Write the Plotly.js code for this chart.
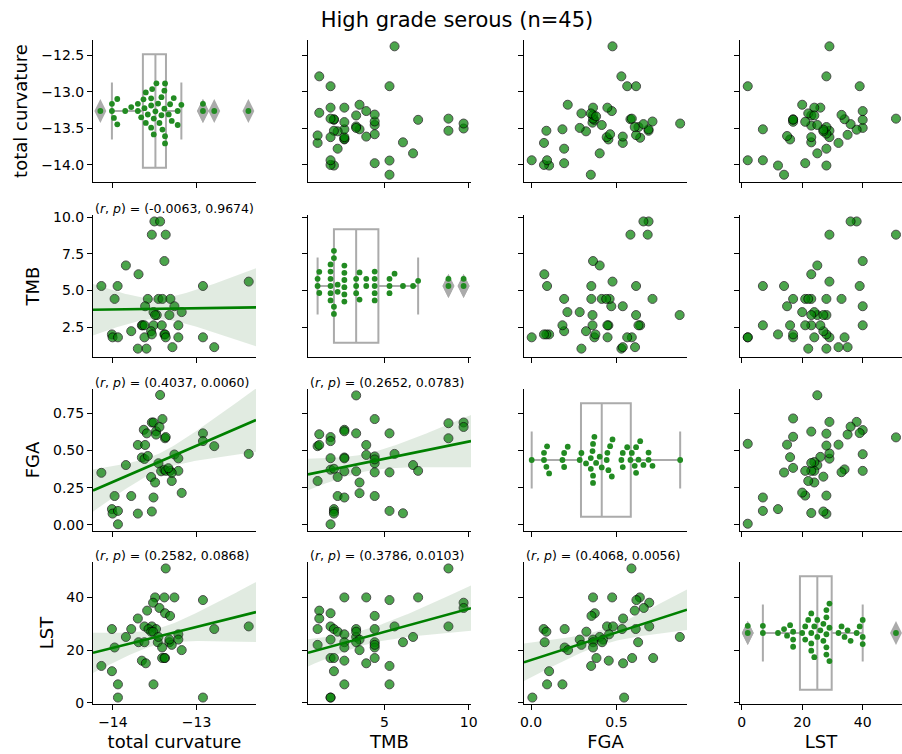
<!DOCTYPE html>
<html><head><meta charset="utf-8">
<script src="https://cdn.plot.ly/plotly-3.0.1.min.js"></script>
<style>html,body{margin:0;padding:0;background:#fff}</style>
</head><body><div id="chart" style="width:902px;height:754px"></div>
<script>
// ---------------- data ----------------
const titleText = 'High grade serous (n=45)';
const varNames = ['total curvature', 'TMB', 'FGA', 'LST'];

// marginal values of each variable (diagonal panels)
const curvature = [-14.150,-14.012,-14.012,-13.988,-13.948,-13.948,-13.853,-13.781,-13.702,-13.702,-13.662,-13.635,-13.623,-13.607,-13.607,-13.583,-13.543,-13.543,-13.543,-13.531,-13.512,-13.512,-13.492,-13.480,-13.460,-13.444,-13.420,-13.420,-13.408,-13.385,-13.385,-13.377,-13.377,-13.377,-13.333,-13.317,-13.297,-13.273,-13.226,-13.226,-13.182,-12.924,-12.924,-12.789,-12.381];
const tmb = [1.03,1.03,1.13,1.13,1.8,1.8,1.8,1.8,1.8,1.8,2.0,2.0,2.0,2.0,2.22,2.22,2.62,2.62,2.62,2.62,2.62,2.62,3.32,3.32,3.32,3.52,3.52,3.92,3.92,4.42,4.42,4.42,4.42,4.42,5.3,5.3,5.3,5.6,6.1,6.7,7.0,8.8,8.8,9.7,9.7];
const fga = [0.004,0.076,0.076,0.090,0.094,0.106,0.184,0.194,0.194,0.215,0.285,0.295,0.322,0.350,0.350,0.360,0.363,0.363,0.363,0.371,0.381,0.402,0.414,0.443,0.447,0.453,0.463,0.473,0.477,0.529,0.537,0.537,0.563,0.582,0.590,0.607,0.615,0.615,0.629,0.639,0.658,0.688,0.688,0.711,0.873];
const lst = [2,2,7,7,12,14,15,16,17,17,17,20,21,21,22,23,23,23,23,24,24,25,25,26,27,27,28,28,28,28,28,29,29,29,32,33,34,35,36,38,39,40,40,40,51];

// pairwise samples
const ctCurv = [-13.504,-13.436,-13.535,-13.369,-13.845,-13.385,-13.694,-14.138,-13.944,-12.924,-12.377,-13.980,-13.583,-13.456,-13.408,-13.313,-13.615,-13.265,-13.178,-13.515,-13.476,-13.325,-13.496,-13.654,-13.646,-13.623,-13.515,-13.416,-13.218,-13.781,-13.543,-14.012,-13.385,-13.535,-13.377,-14.004,-13.940,-13.623,-13.369,-13.218,-12.924,-13.702,-13.599,-13.289,-12.789];
const ctTmb = [9.7,9.7,8.8,8.8,6.7,7.0,6.1,5.3,5.3,5.3,5.6,4.42,4.42,4.42,4.42,4.42,3.92,3.92,3.52,3.52,3.32,3.32,3.32,2.62,2.62,2.62,2.62,2.62,2.62,2.22,2.22,2.0,2.0,2.0,2.0,1.8,1.8,1.8,1.8,1.8,1.8,1.03,1.03,1.13,1.13];

const cfCurv = [-14.138,-13.845,-13.980,-14.012,-14.004,-13.940,-13.940,-13.781,-13.702,-13.535,-13.515,-13.543,-13.496,-13.178,-13.297,-13.436,-13.535,-13.515,-13.408,-13.631,-13.595,-13.484,-13.444,-13.377,-13.369,-13.702,-13.615,-13.654,-13.623,-13.583,-13.265,-13.218,-12.924,-12.924,-12.789,-12.377,-13.456,-13.424,-13.385,-13.369,-13.317,-13.218,-13.484,-13.297,-13.337];
const cfFga = [0.350,0.402,0.194,0.106,0.076,0.094,0.004,0.194,0.076,0.090,0.184,0.322,0.285,0.215,0.295,0.873,0.688,0.688,0.711,0.639,0.615,0.629,0.658,0.582,0.590,0.537,0.537,0.453,0.443,0.463,0.473,0.447,0.615,0.563,0.529,0.477,0.414,0.360,0.371,0.363,0.363,0.363,0.607,0.350,0.381];

const clCurv = [-13.369,-13.496,-13.385,-13.265,-12.924,-13.520,-13.444,-13.591,-13.377,-13.317,-13.702,-13.623,-13.535,-14.012,-13.781,-13.575,-13.484,-13.543,-13.520,-13.218,-12.789,-12.377,-13.845,-13.218,-13.694,-13.623,-13.464,-13.325,-13.297,-13.980,-13.412,-13.178,-13.654,-13.607,-13.412,-13.377,-14.138,-14.012,-13.940,-13.515,-13.940,-12.924,-13.385,-13.325,-13.456];
const clLst = [51,40,40,40,39,38,36,35,34,33,32,29,29,28,28,28,28,27,27,26,28,29,25,24,23,23,23,23,22,21,21,20,16,15,17,17,14,12,7,7,2,2,17,24,25];

const tfTmb = [3.32,4.42,2.62,2.62,3.32,5.3,8.8,9.7,9.7,8.8,1.13,1.03,1.13,1.8,1.8,3.92,1.8,2.62,2.62,3.92,4.42,4.42,5.6,6.7,7.0,1.8,2.0,2.22,2.62,3.32,4.42,5.3,1.03,3.52,3.52,2.22,2.62,4.42,2.0,2.0,2.0,5.3,6.1,1.8,4.42];
const tfFga = [0.870,0.711,0.639,0.629,0.615,0.615,0.683,0.688,0.658,0.582,0.609,0.529,0.537,0.590,0.563,0.537,0.448,0.453,0.447,0.470,0.460,0.414,0.477,0.402,0.363,0.371,0.377,0.322,0.360,0.360,0.353,0.353,0.295,0.285,0.213,0.194,0.184,0.194,0.106,0.090,0.076,0.094,0.078,0.004,0.440];

const tlTmb = [8.8,2.62,3.92,5.3,7.0,9.7,9.7,1.13,1.13,1.8,4.42,1.03,1.8,2.0,2.22,3.32,4.42,5.6,8.8,2.62,3.32,3.52,1.8,1.03,2.62,2.62,3.32,4.42,4.42,6.1,6.7,3.52,1.8,2.0,2.62,3.92,4.42,2.0,5.3,2.62,5.3,1.8,1.8,3.32,4.42];
const tlLst = [51,40,40,39,40,38,36,35,32,34,33,28,29,28,27,28,28,29,29,26,25,24,24,22,23,21,23,23,21,23,25,20,17,17,16,15,17,12,14,7,7,2,2,27,22];

const flFga = [0.588,0.363,0.475,0.637,0.617,0.692,0.660,0.607,0.373,0.354,0.539,0.445,0.480,0.692,0.871,0.074,0.090,0.197,0.324,0.533,0.613,0.457,0.402,0.285,0.363,0.422,0.295,0.363,0.416,0.627,0.080,0.197,0.217,0.363,0.383,0.455,0.539,0.592,0.715,0.352,0.106,0.094,0.184,0.008,0.545];
const flLst = [51,40,40,40,39,38,36,35,34,33,32,29,29,29,25,28,27,28,27,28,28,26,25,24,24,24,22,23,23,23,23,21,20,21,17,16,15,17,17,14,12,7,7,2,2];

// correlation labels shown in lower panels (row, col, text)
const corrRows = [1, 2, 2, 3, 3, 3];
const corrCols = [0, 0, 1, 0, 1, 2];
const corrVals = ['(-0.0063, 0.9674)', '(0.4037, 0.0060)', '(0.2652, 0.0783)', '(0.2582, 0.0868)', '(0.3786, 0.0103)', '(0.4068, 0.0056)'];

// ticks
const yTickVals = [[-14, -13.5, -13, -12.5], [2.5, 5, 7.5, 10], [0, 0.25, 0.5, 0.75], [0, 20, 40]];
const yTickFmt = ['.1f', '.1f', '.2f', 'd'];
const xTickVals = [[-14, -13], [5, 10], [0, 0.5], [0, 20, 40]];
const xTickFmt = ['d', 'd', '.1f', 'd'];

// ---------------- geometry / style ----------------
const FW = 902, FH = 754;
const colL = [93, 308, 524, 740], colR = [256, 471, 687, 902];
const rowT = [40, 215, 389, 562], rowB = [182, 357, 531, 704];
const varRange = [[-14.238, -12.29], [0.46, 10.14], [-0.041, 0.913], [-0.45, 53.45]];
const xRangeOverride = {3: [-0.56, 52.99]};
const FONT = 'DejaVu Sans, Liberation Sans, sans-serif';
const GREEN = '#008000';
const BOXGRAY = '#ababab';

const vars = [curvature, tmb, fga, lst];
const pairs = {
  '0-1': [ctCurv, ctTmb], '0-2': [cfCurv, cfFga], '0-3': [clCurv, clLst],
  '1-2': [tfTmb, tfFga], '1-3': [tlTmb, tlLst], '2-3': [flFga, flLst]
};
function pairXY(i, j) { // x = var j, y = var i
  const lo = Math.min(i, j), hi = Math.max(i, j);
  const p = pairs[lo + '-' + hi];
  return j === lo ? {x: p[0], y: p[1]} : {x: p[1], y: p[0]};
}
function xRange(j) { return xRangeOverride[j] || varRange[j]; }

function swarmOffsets(values, pxPerUnit, d) {
  const order = values.map((v, i) => i).sort((a, b) => values[a] - values[b]);
  const placed = [];
  const out = new Array(values.length);
  for (const i of order) {
    const x = values[i] * pxPerUnit;
    const nb = placed.filter(p => Math.abs(p.x - x) < d);
    const left = [], right = [];
    for (const p of nb) {
      const dy = Math.sqrt(d * d - (p.x - x) * (p.x - x));
      left.push(p.y - dy); right.push(p.y + dy);
    }
    const cands = [0].concat(left, right);
    const idx = cands.map((c, k) => k).sort((a, b) => Math.abs(cands[a]) - Math.abs(cands[b]) || a - b);
    let chosen = 0;
    for (const k of idx) {
      const c = cands[k];
      if (nb.every(p => (p.x - x) ** 2 + (p.y - c) ** 2 >= d * d - 1e-6)) { chosen = c; break; }
    }
    placed.push({x: x, y: chosen});
    out[i] = chosen;
  }
  return out;
}

function regression(x, y, x0, x1) {
  const n = x.length;
  const mx = x.reduce((a, b) => a + b, 0) / n, my = y.reduce((a, b) => a + b, 0) / n;
  let sxx = 0, sxy = 0;
  for (let k = 0; k < n; k++) { sxx += (x[k] - mx) ** 2; sxy += (x[k] - mx) * (y[k] - my); }
  const b = sxy / sxx, a = my - b * mx;
  let sse = 0;
  for (let k = 0; k < n; k++) sse += (y[k] - a - b * x[k]) ** 2;
  const s = Math.sqrt(sse / (n - 2)), t = 2.0167;
  const xs = [], yh = [], lo = [], hi = [];
  for (let k = 0; k <= 100; k++) {
    const xv = x0 + (x1 - x0) * k / 100;
    const yv = a + b * xv;
    const ci = t * s * Math.sqrt(1 / n + (xv - mx) ** 2 / sxx);
    xs.push(xv); yh.push(yv); lo.push(yv - ci); hi.push(yv + ci);
  }
  return {xs, yh, lo, hi};
}

const traces = [];
const annotations = [];
const layout = {
  width: FW, height: FH,
  margin: {l: 0, r: 0, t: 0, b: 0},
  paper_bgcolor: '#fff', plot_bgcolor: 'rgba(0,0,0,0)',
  showlegend: false, hovermode: false,
  font: {family: FONT, color: '#000', size: 14},
  title: {text: titleText, x: 457 / FW, xanchor: 'center', y: 1 - 20 / FH, yanchor: 'middle',
          font: {family: FONT, size: 21, color: '#000'}},
  annotations: annotations
};

for (let i = 0; i < 4; i++) {
  for (let j = 0; j < 4; j++) {
    const k = i * 4 + j + 1;
    const sfx = k === 1 ? '' : String(k);
    const xa = 'x' + sfx, ya = 'y' + sfx;
    const axCommon = {
      showgrid: false, zeroline: false, showline: true, linecolor: '#000', linewidth: 1,
      ticks: 'outside', ticklen: 5, tickwidth: 1, tickcolor: '#000',
      tickfont: {family: FONT, size: 14, color: '#000'}, fixedrange: true
    };
    layout['xaxis' + sfx] = Object.assign({}, axCommon, {
      domain: [colL[j] / FW, colR[j] / FW], anchor: ya, range: xRange(j),
      tickmode: 'array', tickvals: xTickVals[j], tickformat: xTickFmt[j],
      showticklabels: i === 3,
      title: i === 3 ? {text: varNames[j], font: {family: FONT, size: 18, color: '#000'}, standoff: 6} : {text: ''}
    });
    layout['yaxis' + sfx] = Object.assign({}, axCommon, {
      domain: [1 - rowB[i] / FH, 1 - rowT[i] / FH], anchor: xa, range: varRange[i],
      tickmode: 'array', tickvals: yTickVals[i], tickformat: yTickFmt[i],
      showticklabels: j === 0,
      title: j === 0 ? {text: varNames[i], font: {family: FONT, size: 18, color: '#000'}, standoff: 8} : {text: ''}
    });

    if (i === j) {
      const vals = vars[i];
      const yr = varRange[i], span = yr[1] - yr[0];
      const center = (yr[0] + yr[1]) / 2;
      const xr = xRange(j);
      const pxPerX = (colR[j] - colL[j]) / (xr[1] - xr[0]);
      const pxPerY = (rowB[i] - rowT[i]) / span;
      traces.push({
        type: 'box', orientation: 'h', x: vals, y0: center, width: 0.8 * span,
        xaxis: xa, yaxis: ya, boxpoints: 'outliers', jitter: 0, pointpos: 0, whiskerwidth: 0.5,
        fillcolor: 'rgba(255,255,255,0)', line: {color: BOXGRAY, width: 2},
        marker: {symbol: 'diamond-tall', size: 17, color: BOXGRAY, line: {width: 0}},
        hoverinfo: 'skip'
      });
      const offs = swarmOffsets(vals, pxPerX, 7.2);
      traces.push({
        type: 'scatter', mode: 'markers', x: vals, y: offs.map(o => center - o / pxPerY),
        xaxis: xa, yaxis: ya, marker: {size: 5.8, color: '#228b22', line: {width: 0}},
        hoverinfo: 'skip'
      });
    } else {
      const p = pairXY(i, j);
      traces.push({
        type: 'scatter', mode: 'markers', x: p.x, y: p.y, xaxis: xa, yaxis: ya,
        marker: {size: 9, color: GREEN, opacity: 0.7, line: {color: '#000', width: 1}},
        hoverinfo: 'skip'
      });
      if (i > j) {
        const xr = xRange(j);
        const r = regression(p.x, p.y, xr[0], xr[1]);
        traces.push({
          type: 'scatter', mode: 'lines', x: r.xs.concat(r.xs.slice().reverse()),
          y: r.hi.concat(r.lo.slice().reverse()), fill: 'toself',
          fillcolor: 'rgba(40,110,40,0.14)', line: {width: 0}, xaxis: xa, yaxis: ya, hoverinfo: 'skip'
        });
        traces.push({
          type: 'scatter', mode: 'lines', x: r.xs, y: r.yh, xaxis: xa, yaxis: ya,
          line: {color: GREEN, width: 2.6}, hoverinfo: 'skip'
        });
      }
    }
  }
}

for (let c = 0; c < corrRows.length; c++) {
  const i = corrRows[c], j = corrCols[c];
  annotations.push({
    xref: 'paper', yref: 'paper', x: colL[j] / FW, y: 1 - (rowT[i] + 3) / FH,
    xanchor: 'left', yanchor: 'bottom', showarrow: false,
    text: '(<i>r</i>, <i>p</i>) = ' + corrVals[c],
    font: {family: FONT, size: 12.5, color: '#000'}
  });
}

Plotly.newPlot('chart', traces, layout, {displayModeBar: false, staticPlot: true});
</script></body></html>
